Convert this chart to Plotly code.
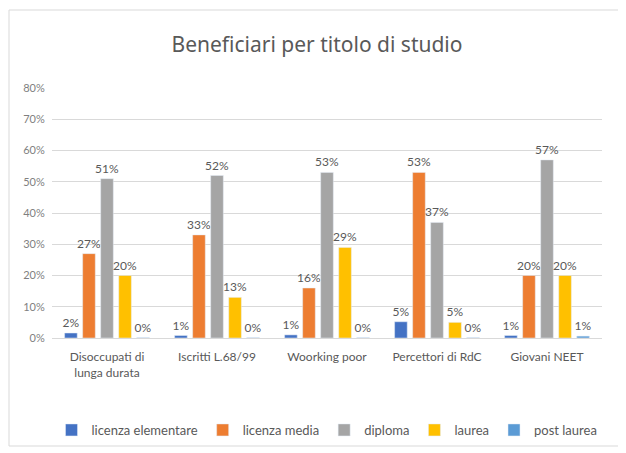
import plotly.graph_objects as go

categories = ["Disoccupati di<br>lunga durata", "Iscritti L.68/99", "Woorking poor",
              "Percettori di RdC", "Giovani NEET"]
series_names = ["licenza elementare", "licenza media", "diploma", "laurea", "post laurea"]
licenza_elementare = [0.016, 0.008, 0.010, 0.052, 0.008]
licenza_media = [0.27, 0.33, 0.16, 0.53, 0.20]
diploma = [0.51, 0.52, 0.53, 0.37, 0.57]
laurea = [0.20, 0.13, 0.29, 0.05, 0.20]
post_laurea = [0.001, 0.001, 0.001, 0.001, 0.006]
colors = ["#4472C4", "#ED7D31", "#A5A5A5", "#FFC000", "#5B9BD5"]

values = [licenza_elementare, licenza_media, diploma, laurea, post_laurea]

fig = go.Figure()
for name, vals, col in zip(series_names, values, colors):
    fig.add_trace(go.Bar(
        x=categories, y=vals, name=name, marker_color=col,
        texttemplate="%{y:.0%}", textposition="outside", cliponaxis=False,
        textfont=dict(size=12, color="#595959", family="Lato, sans-serif"),
    ))

fig.update_layout(
    width=618, height=445,
    margin=dict(l=44, r=24, t=80, b=115, autoexpand=False),
    paper_bgcolor="white", plot_bgcolor="white",
    barmode="group", bargap=0.18, bargroupgap=0.3,
    uniformtext=dict(minsize=12, mode="show"),
    title=dict(text="Beneficiari per titolo di studio", x=0.5, xanchor="center",
               y=1 - 37 / 445, yanchor="middle",
               font=dict(size=21, color="#595959", family="Noto Sans, sans-serif")),
    font=dict(family="Lato, sans-serif", color="#595959"),
    yaxis=dict(range=[0, 0.8], dtick=0.1, tickformat=".0%", gridcolor="#D9D9D9",
               gridwidth=1, zeroline=False, showline=False,
               tickfont=dict(size=11, color="#7F7F7F"), ticks="outside", ticklen=4,
               tickcolor="rgba(0,0,0,0)"),
    xaxis=dict(showline=True, linecolor="#D9D9D9", tickangle=0,
               ticks="outside", ticklen=8, tickcolor="rgba(0,0,0,0)",
               tickfont=dict(size=12, color="#595959", family="Lato, sans-serif")),
    legend=dict(orientation="h", x=0.5, xanchor="center",
                y=-0.368, yanchor="middle",
                font=dict(size=13, color="#595959", family="Lato, sans-serif"),
                itemwidth=30, traceorder="normal"),
    showlegend=True,
)
fig.add_shape(type="rect", xref="paper", yref="paper", x0=(1 - 44) / 550, x1=1.045,
              y0=-0.432, y1=1.312, line=dict(color="#D9D9D9", width=1), layer="below")

fig.write_html("out.html")
